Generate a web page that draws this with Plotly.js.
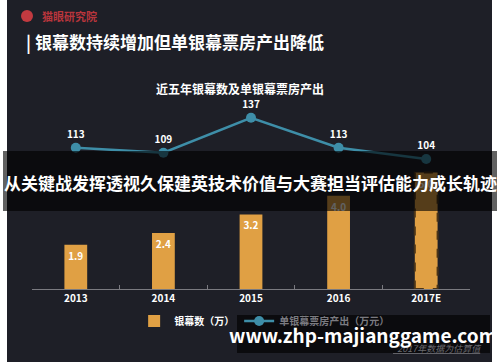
<!DOCTYPE html>
<html>
<head>
<meta charset="utf-8">
<script src="https://cdn.plot.ly/plotly-3.0.1.min.js"></script>
<style>html,body{margin:0;padding:0;background:#fff;}#chart{width:500px;height:362px;}</style>
</head>
<body>
<div id="chart"></div>
<script>
const years = ['2013', '2014', '2015', '2016', '2017E'];
const screens = [1.9, 2.4, 3.2, 4.0, 5.0];
const boxOffice = [113, 109, 137, 113, 104];
const screenLabels = ['1.9', '2.4', '3.2', '4.0', '5.0'];
const boxLabels = ['113', '109', '137', '113', '104'];

const W = 500, H = 362, L = 32, R = 30, T = 100, B = 73;
const PW = W - L - R, PH = H - T - B;
const px = v => (v - L) / PW;
const py = v => (H - B - v) / PH;
const FONT = '"Noto Sans CJK SC", "Noto Sans", sans-serif';
const barColor = '#e0a044';
const lineColor = '#3e8ea8';
const barWidth = 0.26;

const traces = [
  {
    type: 'bar', x: years, y: screens, name: '银幕数（万）',
    marker: {color: barColor}, width: barWidth,
    text: screenLabels, textposition: 'inside', insidetextanchor: 'end',
    textangle: 0, constraintext: 'none',
    textfont: {color: '#ffffff', size: 10, family: FONT, weight: 'bold'},
    hoverinfo: 'skip'
  },
  {
    type: 'scatter', mode: 'lines+markers+text', x: years, y: boxOffice, yaxis: 'y2',
    name: '<span style="color:#7a7a80">单银幕票房产出（万元）</span>',
    line: {color: lineColor, width: 2.5},
    marker: {color: lineColor, size: 10},
    text: boxLabels, textposition: 'top center', cliponaxis: false,
    textfont: {color: '#ffffff', size: 10, family: FONT, weight: 'bold'},
    hoverinfo: 'skip'
  }
];

const last = years.length - 1;
const layout = {
  width: W, height: H,
  margin: {l: L, r: R, t: T, b: B, pad: 0},
  paper_bgcolor: '#ffffff', plot_bgcolor: 'rgba(0,0,0,0)',
  font: {family: FONT, color: '#ffffff', size: 10},
  showlegend: true,
  legend: {
    orientation: 'h', x: 0.53, xanchor: 'center', y: py(321), yanchor: 'middle',
    font: {color: '#ffffff', size: 10, family: FONT, weight: 'bold'},
    bgcolor: 'rgba(0,0,0,0)', itemwidth: 30, tracegroupgap: 0
  },
  xaxis: {
    type: 'category', showgrid: false, zeroline: false,
    showline: true, linecolor: '#7a7a80', linewidth: 1,
    ticks: 'inside', tickson: 'boundaries', ticklen: 4, tickcolor: '#7a7a80',
    tickfont: {color: '#ffffff', size: 10, family: FONT, weight: 'bold'}
  },
  yaxis: {range: [0, PH / 23.3], visible: false, showgrid: false, zeroline: false, fixedrange: true},
  yaxis2: {range: [0, PH / 1.25], overlaying: 'y', visible: false, showgrid: false, zeroline: false},
  shapes: [
    {type: 'rect', xref: 'paper', yref: 'paper', x0: px(7), x1: px(492), y0: py(362), y1: py(0),
     fillcolor: '#1e1f27', line: {width: 0}, layer: 'below'},
    {type: 'circle', xref: 'paper', yref: 'paper', x0: px(21), x1: px(33), y0: py(22), y1: py(10),
     fillcolor: '#c23a40', line: {width: 0}},
    {type: 'rect', xref: 'x', yref: 'y', x0: last - barWidth / 2, x1: last + barWidth / 2, y0: 0, y1: screens[last],
     fillcolor: 'rgba(0,0,0,0)', line: {color: '#4a3418', width: 2, dash: 'dash'}, layer: 'above'},
    {type: 'rect', xref: 'paper', yref: 'paper', x0: px(3), x1: px(497), y0: py(211), y1: py(151),
     fillcolor: 'rgba(0,0,0,0.62)', line: {width: 0}, layer: 'above'},
    {type: 'rect', xref: 'paper', yref: 'paper', x0: px(237), x1: px(490), y0: py(353), y1: py(315),
     fillcolor: 'rgba(0,0,0,0.62)', line: {width: 0}, layer: 'above'}
  ],
  annotations: [
    {xref: 'paper', yref: 'paper', x: px(40), y: py(16), xanchor: 'left', yanchor: 'middle', showarrow: false,
     text: '猫眼研究院', font: {color: '#b8353c', size: 11, family: FONT, weight: 'bold'}},
    {xref: 'paper', yref: 'paper', x: px(24), y: py(42), xanchor: 'left', yanchor: 'middle', showarrow: false,
     text: '| 银幕数持续增加但单银幕票房产出降低', font: {color: '#ffffff', size: 17, family: FONT, weight: 'bold'}},
    {xref: 'paper', yref: 'paper', x: px(240), y: py(88), xanchor: 'center', yanchor: 'middle', showarrow: false,
     text: '近五年银幕数及单银幕票房产出', font: {color: '#ffffff', size: 12, family: FONT, weight: 'bold'}},
    {xref: 'paper', yref: 'paper', x: px(250), y: py(182), xanchor: 'center', yanchor: 'middle', showarrow: false,
     text: '从关键战发挥透视久保建英技术价值与大赛担当评估能力成长轨迹', font: {color: '#ffffff', size: 17, family: FONT, weight: 'bold'}},
    {xref: 'paper', yref: 'paper', x: px(484), y: py(348), xanchor: 'right', yanchor: 'middle', showarrow: false,
     text: '<i><u>*2017年数据为估算值</u></i>', font: {color: '#6a6a70', size: 9, family: FONT}},
    {xref: 'paper', yref: 'paper', x: px(363), y: py(334), xanchor: 'center', yanchor: 'middle', showarrow: false,
     text: 'www.zhp-majianggame.com', font: {color: '#ffffff', size: 19, family: FONT, weight: 'bold'}}
  ]
};

Plotly.newPlot('chart', traces, layout, {staticPlot: true, displayModeBar: false});
</script>
</body>
</html>
